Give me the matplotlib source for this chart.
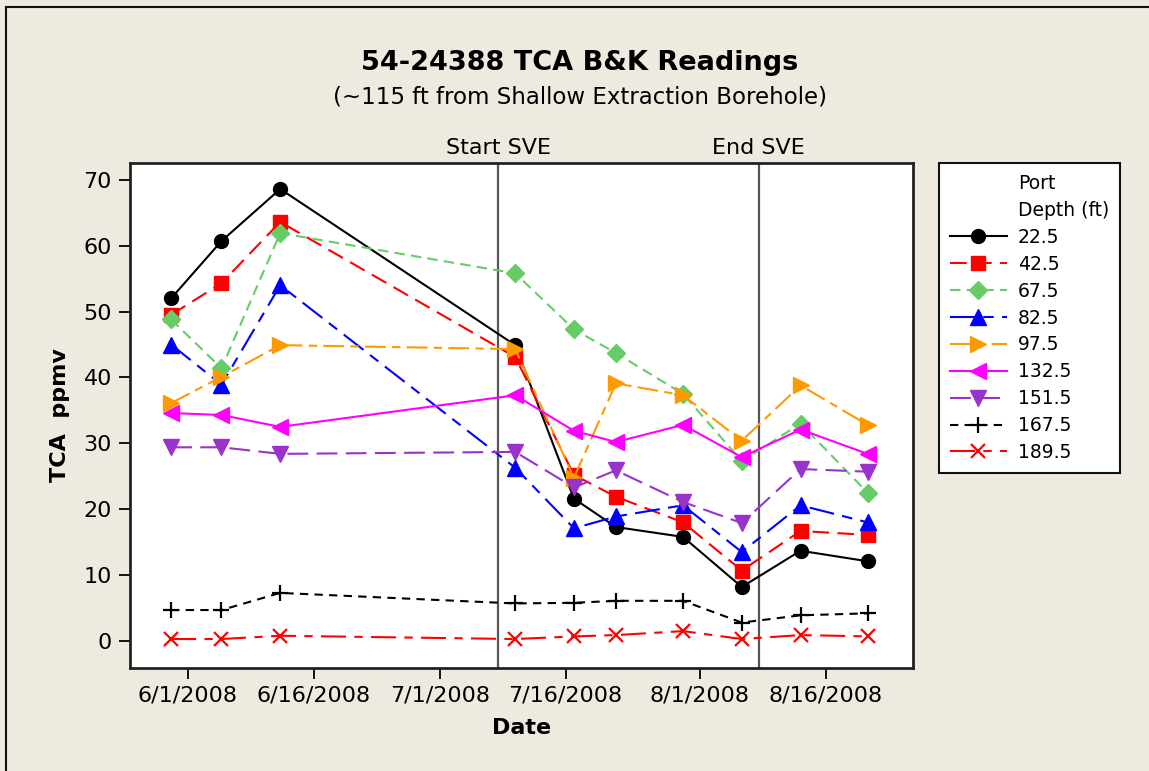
import matplotlib
matplotlib.use("Agg")
import matplotlib.pyplot as plt
import matplotlib.dates as mdates
from matplotlib.lines import Line2D
import datetime as dt

# ---------------- data ----------------
dates = ["2008-05-30", "2008-06-05", "2008-06-12", "2008-07-10", "2008-07-17",
         "2008-07-22", "2008-07-30", "2008-08-06", "2008-08-13", "2008-08-21"]
depths = ["22.5", "42.5", "67.5", "82.5", "97.5", "132.5", "151.5", "167.5", "189.5"]

d225 = [52.0, 60.7, 68.6, 44.9, 21.6, 17.3, 15.8, 8.2, 13.7, 12.1]
d425 = [49.5, 54.3, 63.6, 43.1, 25.2, 21.9, 18.0, 10.7, 16.7, 16.1]
d675 = [48.8, 41.4, 61.9, 55.8, 47.3, 43.7, 37.5, 27.3, 33.0, 22.5]
d825 = [45.0, 38.9, 54.0, 26.3, 17.1, 18.9, 20.6, 13.5, 20.6, 18.0]
d975 = [36.1, 40.1, 44.9, 44.3, 24.8, 39.1, 37.3, 30.4, 38.8, 32.8]
d1325 = [34.6, 34.3, 32.5, 37.3, 31.9, 30.2, 32.8, 27.9, 32.1, 28.4]
d1515 = [29.4, 29.4, 28.4, 28.7, 23.3, 25.9, 21.1, 17.9, 26.1, 25.7]
d1675 = [4.7, 4.7, 7.3, 5.7, 5.8, 6.1, 6.1, 2.8, 3.9, 4.2]
d1895 = [0.3, 0.3, 0.8, 0.3, 0.7, 0.9, 1.5, 0.3, 0.9, 0.7]

events = ["2008-07-08", "2008-08-08"]
event_labels = ["Start SVE", "End SVE"]
tick_dates = ["2008-06-01", "2008-06-16", "2008-07-01", "2008-07-16", "2008-08-01", "2008-08-16"]
tick_labels = ["6/1/2008", "6/16/2008", "7/1/2008", "7/16/2008", "8/1/2008", "8/16/2008"]
yticks = [0, 10, 20, 30, 40, 50, 60, 70]

series = [d225, d425, d675, d825, d975, d1325, d1515, d1675, d1895]
colors = ["#000000", "#FF0000", "#66CC66", "#0000FF", "#FF9900", "#FF00FF", "#9933CC", "#000000", "#FF0000"]
markers = ["o", "s", "D", "^", ">", "<", "v", "+", "x"]
msizes = [10, 10, 9, 11, 11, 11, 11, 11, 10]
lstyles = ["-", (0, (8, 4)), (0, (5, 3)), (0, (12, 4, 5, 4)), (0, (10, 3, 4, 3)),
           "-", (0, (10, 4)), (0, (4, 3)), (0, (12, 4, 4, 4))]

def todate(s):
    return dt.datetime.strptime(s, "%Y-%m-%d")

x = [todate(s) for s in dates]

BG = "#EEEAE0"
fig = plt.figure(figsize=(11.49, 7.71), dpi=100, facecolor=BG)
ax = fig.add_axes([130 / 1149, 1 - 667.7 / 771, 783 / 1149, 504.4 / 771])
ax.set_facecolor("white")

handles = []
for vals, c, m, ms, ls, lab in zip(series, colors, markers, msizes, lstyles, depths):
    mew = 1.6 if m in ("+", "x") else 1.0
    h, = ax.plot(x, vals, color=c, marker=m, markersize=ms, linestyle=ls,
                 linewidth=1.5, markeredgewidth=mew, markeredgecolor=c,
                 markerfacecolor=c, label=lab, clip_on=False, zorder=3)
    handles.append(h)

for ev, lab in zip(events, event_labels):
    d = todate(ev)
    ax.axvline(d, color="#555555", linewidth=1.6, zorder=2)
    ax.text(d, 72.5 + 0.8, lab, ha="center", va="bottom", fontsize=16,
            transform=ax.transData)

x0 = mdates.date2num(todate("2008-06-01"))
ax.set_xlim(x0 - 6.9, x0 + 86.4)
ax.set_ylim(-4.05, 72.5)

ax.set_xticks([todate(s) for s in tick_dates])
ax.set_xticklabels(tick_labels)
ax.set_yticks(yticks)
ax.tick_params(axis="both", direction="out", length=8, width=1.3, labelsize=16,
               top=False, right=False, pad=5)
for sp in ax.spines.values():
    sp.set_linewidth(2.0)
    sp.set_color("#222222")

ax.set_xlabel("Date", fontsize=16, fontweight="bold", labelpad=9)
ax.set_ylabel("TCA  ppmv", fontsize=16, fontweight="bold", labelpad=10)

fig.text(580 / 1149, 1 - 63 / 771, "54-24388 TCA B&K Readings", ha="center", va="center",
         fontsize=19.5, fontweight="bold")
fig.text(580 / 1149, 1 - 97 / 771, "(~115 ft from Shallow Extraction Borehole)", ha="center",
         va="center", fontsize=16.5)

# figure border (top and left)
fig.add_artist(Line2D([6 / 1149, 6 / 1149], [0, 1 - 7 / 771], color="#111111", linewidth=1.5))
fig.add_artist(Line2D([6 / 1149, 1], [1 - 7 / 771, 1 - 7 / 771], color="#111111", linewidth=1.5))

blank1 = Line2D([], [], linestyle="none", marker=None)
blank2 = Line2D([], [], linestyle="none", marker=None)
leg = fig.legend([blank1, blank2] + handles, ["Port", "Depth (ft)"] + depths,
                 loc="upper left", bbox_to_anchor=(939 / 1149, 1 - 163 / 771),
                 frameon=True, fancybox=False, framealpha=1.0, fontsize=13.5, handlelength=3.0,
                 handletextpad=0.6, labelspacing=0.42, borderpad=0.6,
                 borderaxespad=0, markerscale=1.0)
leg.get_frame().set_edgecolor("#111111")
leg.get_frame().set_linewidth(1.5)
leg.get_frame().set_facecolor("white")

fig.savefig("out.png", dpi=100, facecolor=BG)
